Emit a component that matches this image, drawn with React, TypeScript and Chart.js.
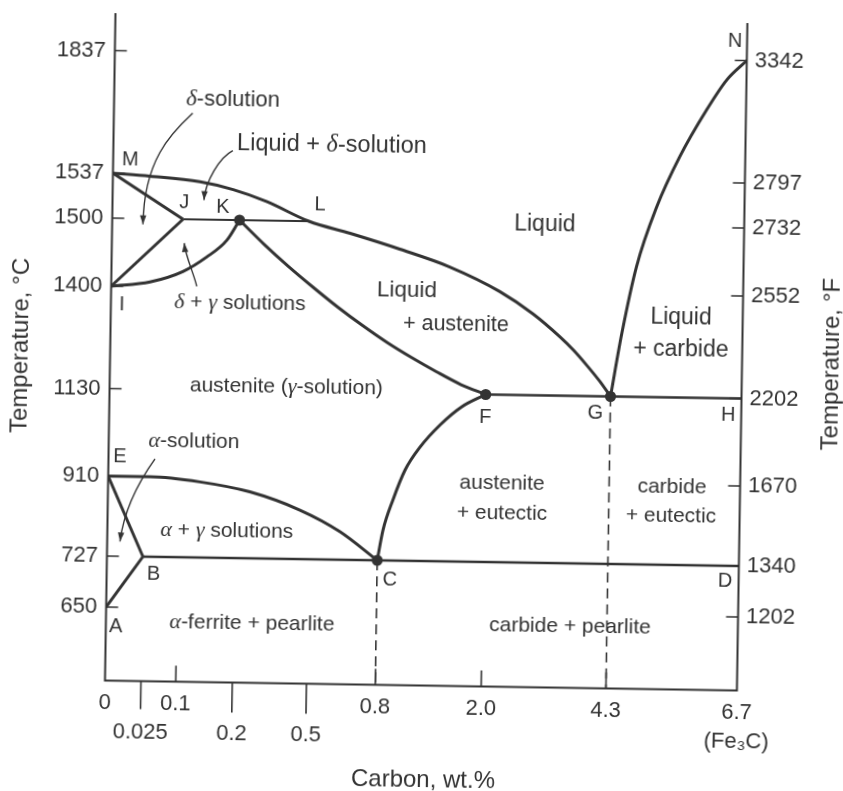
import React, { useEffect, useRef } from 'react';
import { Chart, registerables, LinearScale } from 'chart.js';

Chart.register(...registerables);

/* ================= DATA (carbon wt.%, temperature °C) ================= */
const carbonTicks = [0, 0.025, 0.1, 0.2, 0.5, 0.8, 2.0, 4.3, 6.7];
const carbonTickLabels: (string | string[])[] = ['0', ['', '0.025'], '0.1', ['', '0.2'], ['', '0.5'], '0.8', '2.0', '4.3', ['6.7', '(Fe₃C)']];
const celsiusTicks = [650, 727, 910, 1130, 1400, 1500, 1537, 1837];
const celsiusTickLabels = ['650', '727', '910', '1130', '1400', '1500', '1537', '1837'];
const fahrenheitTickLabels = ['1202', '1340', '1670', '2202', '2552', '2732', '2797', '3342'];
const carbonMin = 0;
const carbonMax = 6.7;
const celsiusMin = 540;
const celsiusMax = 1930;

// phase boundaries
const liquidusMLG = [[0, 1537], [0.027, 1535], [0.129, 1531], [0.188, 1525], [0.31, 1515.5], [0.48, 1500], [0.66, 1483], [1.0, 1461], [1.57, 1436], [2.23, 1401], [2.85, 1344], [3.35, 1285], [3.6, 1251], [3.86, 1210], [4.1, 1169], [4.3, 1130]];
const deltaLineMJ = [[0, 1537], [0.1, 1500]];
const deltaLineIJ = [[0, 1400], [0.1, 1500]];
const gammaLineIK = [[0, 1400], [0.031, 1407], [0.101, 1423], [0.143, 1445], [0.178, 1470], [0.2, 1500]];
const peritecticJL = [[0.1, 1500], [0.48, 1500]];
const solidusKF = [[0.2, 1500], [0.301, 1465], [0.401, 1433], [0.502, 1403], [0.611, 1354], [0.719, 1307], [0.873, 1263], [1.155, 1224], [1.437, 1188], [1.718, 1155], [2.0, 1130]];
const eutecticFH = [[2.0, 1130], [6.7, 1130]];
const liquidusGN = [[4.3, 1130], [4.49, 1297], [4.74, 1441], [5.09, 1516], [5.5, 1599], [5.98, 1715], [6.34, 1789], [6.7, 1837]];
const a3LineEC = [[0, 910], [0.0375, 910], [0.137, 900], [0.259, 879], [0.463, 839], [0.636, 791], [0.8, 727]];
const alphaLineEB = [[0, 910], [0.025, 727]];
const alphaLineAB = [[0, 650], [0.025, 727]];
const eutectoidBD = [[0.025, 727], [6.7, 727]];
const acmLineCF = [[0.8, 727], [0.86, 796], [0.968, 866], [1.1, 937], [1.265, 995], [1.49, 1052], [1.73, 1098], [2.0, 1130]];
const eutectoidDrop = [[0.8, 727], [0.8, 540]];
const eutecticDrop = [[4.3, 1130], [4.3, 540]];
const keyPoints = [[0.2, 1500], [2.0, 1130], [4.3, 1130], [0.8, 727]];

const pointNames = ['M', 'J', 'K', 'L', 'I', 'E', 'A', 'B', 'C', 'F', 'G', 'H', 'D', 'N'];
const pointAt = [[0, 1537], [0.1, 1500], [0.2, 1500], [0.48, 1500], [0, 1400], [0, 910], [0, 650], [0.025, 727], [0.8, 727], [2.0, 1130], [4.3, 1130], [6.7, 1130], [6.7, 727], [6.7, 1837]];

const regionTexts = ['δ-solution', 'Liquid + δ-solution', 'Liquid', 'Liquid', '+ austenite', 'Liquid', '+ carbide', 'δ + γ solutions', 'austenite (γ-solution)', 'α-solution', 'α + γ solutions', 'α-ferrite + pearlite', 'austenite', '+ eutectic', 'carbide', '+ eutectic', 'carbide + pearlite'];
const regionAt = [[0.185, 1721], [0.574, 1614], [3.04, 1500], [1.089, 1401], [1.65, 1314], [5.57, 1340], [5.575, 1255], [0.207, 1361], [0.4, 1142], [0.1255, 1000], [0.186, 789], [0.276, 629], [2.326, 908], [2.335, 839], [5.452, 906], [5.443, 839], [3.62, 631]];

/* ================= LAYOUT / STYLE ================= */
const INK = '#333333';
const FONT = "'Liberation Sans', Arial, Helvetica, sans-serif";
const GREEK_FONT = "'Liberation Serif', 'DejaVu Serif', serif";
const REGION_FONT_SIZE = [22, 23.5, 23, 22.5, 21.5, 23, 23, 21, 21, 21, 21, 21, 21, 21, 21, 21, 21];
const X_KNOT_FRACTIONS = [0, 0.05696, 0.11203, 0.20142, 0.31883, 0.42769, 0.59525, 0.79272, 1];
const Y_KNOT_VALUES = [celsiusMin, ...celsiusTicks, celsiusMax];
const Y_KNOT_FRACTIONS = [0, 0.11011, 0.18652, 0.30637, 0.43745, 0.59101, 0.69288, 0.7603, 0.94382, 1];
const X_TICK_MARK = [0, 28, -16, 30, 30, -16, -16, -16, 0]; // + = outward (down), - = inward
const POINT_LABEL_OFFSET = [[17, -14], [1, -17], [-17, -13], [11, -17], [11, 18], [11.5, -20], [10, 19], [11, 17.5], [13, 19], [0, 23], [-15, 17], [-13, 17], [-13.6, 15], [-12, -19]];
const ARROWS: { label: number; path: number[][] }[] = [
  { label: 0, path: [[-40, 14], [-62, 35], [-88, 62], [-88, 126]] },
  { label: 1, path: [[-99, 7], [-112, 14], [-126, 38], [-127, 57]] },
  { label: 7, path: [[-43.5, -16], [-47, -30], [-55, -45], [-56.6, -59]] },
  { label: 9, path: [[-38.7, 18], [-47, 30], [-68, 62], [-72.4, 101]] },
];

const KNOTS: Record<string, { v: number[]; f: number[] }> = {
  x: { v: carbonTicks, f: X_KNOT_FRACTIONS },
  y: { v: Y_KNOT_VALUES, f: Y_KNOT_FRACTIONS },
  y2: { v: Y_KNOT_VALUES, f: Y_KNOT_FRACTIONS },
};
const TICK_VALUES: Record<string, number[]> = { x: carbonTicks, y: celsiusTicks, y2: celsiusTicks };

/* ============ piecewise-linear axis (non-uniform paper scale) ============ */
class PiecewiseScale extends (LinearScale as any) {
  static id = 'piecewise';
  static defaults = {};
  buildTicks() {
    return (TICK_VALUES[this.id] || []).map((v: number) => ({ value: v }));
  }
  toDecimal(value: number) {
    const { v, f } = KNOTS[this.id];
    const n = v.length - 1;
    let i = 1;
    while (i < n && value > v[i]) i++;
    const t = (value - v[i - 1]) / (v[i] - v[i - 1]);
    return f[i - 1] + t * (f[i] - f[i - 1]);
  }
  getPixelForValue(value: number) {
    if (value === null || value === undefined || isNaN(value)) return NaN;
    return this.getPixelForDecimal(this.toDecimal(value));
  }
  getValueForPixel(pixel: number) {
    const d = this.getDecimalForPixel(pixel);
    const { v, f } = KNOTS[this.id];
    const n = v.length - 1;
    let i = 1;
    while (i < n && d > f[i]) i++;
    const t = (d - f[i - 1]) / (f[i] - f[i - 1]);
    return v[i - 1] + t * (v[i] - v[i - 1]);
  }
}
Chart.register(PiecewiseScale as any);

const pts = (a: number[][]) => a.map(([x, y]) => ({ x, y }));
const line = (data: number[][], width: number, smooth = true) => ({
  data: pts(data), showLine: true, borderColor: INK, borderWidth: width, pointRadius: 0, pointHoverRadius: 0,
  cubicInterpolationMode: smooth ? 'monotone' : 'default', tension: smooth ? 0.4 : 0, fill: false,
});

function drawRich(ctx: CanvasRenderingContext2D, text: string, x: number, y: number, size: number) {
  const runs: { t: string; g: boolean }[] = [];
  for (const ch of text) {
    const g = /[αγδ]/.test(ch);
    const last = runs[runs.length - 1];
    if (last && last.g === g) last.t += ch; else runs.push({ t: ch, g });
  }
  const fontOf = (g: boolean) => (g ? `italic ${size + 1}px ${GREEK_FONT}` : `${size}px ${FONT}`);
  let total = 0;
  const widths = runs.map((r) => { ctx.font = fontOf(r.g); const w = ctx.measureText(r.t).width; total += w; return w; });
  let cx = x - total / 2;
  ctx.textAlign = 'left';
  ctx.textBaseline = 'middle';
  runs.forEach((r, i) => { ctx.font = fontOf(r.g); ctx.fillText(r.t, cx, y); cx += widths[i]; });
}

const decor = {
  id: 'decor',
  beforeDraw(chart: any) {
    const { ctx, width, height } = chart;
    ctx.save();
    ctx.fillStyle = '#ffffff';
    ctx.fillRect(0, 0, width, height);
    ctx.restore();
  },
  afterDraw(chart: any) {
    const { ctx, chartArea: ca, scales } = chart;
    const xs = scales.x;
    const ys = scales.y;
    ctx.save();
    ctx.strokeStyle = INK;
    ctx.fillStyle = INK;
    ctx.lineCap = 'butt';
    // axes (left, bottom, right)
    ctx.lineWidth = 2;
    ctx.beginPath();
    ctx.moveTo(ca.left, ca.top);
    ctx.lineTo(ca.left, ca.bottom);
    ctx.lineTo(ca.right, ca.bottom);
    ctx.lineTo(ca.right, ca.top);
    ctx.stroke();
    // tick marks
    ctx.lineWidth = 1.6;
    ctx.beginPath();
    celsiusTicks.forEach((v) => {
      const py = ys.getPixelForValue(v);
      ctx.moveTo(ca.left, py); ctx.lineTo(ca.left + 12, py);
      ctx.moveTo(ca.right, py); ctx.lineTo(ca.right - 12, py);
    });
    carbonTicks.forEach((v, i) => {
      const len = X_TICK_MARK[i];
      if (!len) return;
      const px = xs.getPixelForValue(v);
      ctx.moveTo(px, ca.bottom); ctx.lineTo(px, ca.bottom + len);
    });
    ctx.stroke();
    // point letters
    ctx.font = `20px ${FONT}`;
    ctx.textAlign = 'center';
    ctx.textBaseline = 'middle';
    pointNames.forEach((n, i) => {
      const px = xs.getPixelForValue(pointAt[i][0]) + POINT_LABEL_OFFSET[i][0];
      const py = ys.getPixelForValue(pointAt[i][1]) + POINT_LABEL_OFFSET[i][1];
      ctx.fillText(n, px, py);
    });
    // region labels
    const anchors = regionAt.map(([c, t]) => [xs.getPixelForValue(c), ys.getPixelForValue(t)]);
    regionTexts.forEach((t, i) => drawRich(ctx, t, anchors[i][0], anchors[i][1], REGION_FONT_SIZE[i]));
    // arrows
    ctx.lineWidth = 1.4;
    ARROWS.forEach(({ label, path }) => {
      const [ax, ay] = anchors[label];
      const p = path.map(([dx, dy]) => [ax + dx, ay + dy]);
      ctx.beginPath();
      ctx.moveTo(p[0][0], p[0][1]);
      ctx.bezierCurveTo(p[1][0], p[1][1], p[2][0], p[2][1], p[3][0], p[3][1]);
      ctx.stroke();
      const ang = Math.atan2(p[3][1] - p[2][1], p[3][0] - p[2][0]);
      const L = 9, W = 3.2;
      const e = p[3];
      ctx.beginPath();
      ctx.moveTo(e[0], e[1]);
      ctx.lineTo(e[0] - L * Math.cos(ang) + W * Math.sin(ang), e[1] - L * Math.sin(ang) - W * Math.cos(ang));
      ctx.lineTo(e[0] - L * Math.cos(ang) - W * Math.sin(ang), e[1] - L * Math.sin(ang) + W * Math.cos(ang));
      ctx.closePath();
      ctx.fill();
    });
    // axis titles
    ctx.font = `24px ${FONT}`;
    ctx.textAlign = 'center';
    ctx.textBaseline = 'middle';
    const midY = (ca.top + ca.bottom) / 2;
    ctx.save();
    ctx.translate(ca.left - 89.4, midY);
    ctx.rotate(-Math.PI / 2);
    ctx.fillText('Temperature, °C', 0, 0);
    ctx.restore();
    ctx.save();
    ctx.translate(ca.right + 90, midY + 6);
    ctx.rotate(-Math.PI / 2);
    ctx.fillText('Temperature, °F', 0, 0);
    ctx.restore();
    ctx.fillText('Carbon, wt.%', (ca.left + ca.right) / 2 + 3.5, ca.bottom + 94.5);
    ctx.restore();
  },
};

const tickFont = { family: FONT, size: 22 };

export default function App() {
  const ref = useRef<HTMLCanvasElement>(null);
  useEffect(() => {
    if (!ref.current) return;
    const chart = new Chart(ref.current, {
      type: 'scatter',
      data: {
        datasets: [
          line(liquidusMLG, 3),
          line(deltaLineMJ, 3, false),
          line(deltaLineIJ, 3, false),
          line(gammaLineIK, 3),
          line(peritecticJL, 2.2, false),
          line(solidusKF, 3),
          line(eutecticFH, 2.4, false),
          line(liquidusGN, 3),
          line(a3LineEC, 3),
          line(alphaLineEB, 3, false),
          line(alphaLineAB, 3, false),
          line(eutectoidBD, 2.4, false),
          line(acmLineCF, 3),
          { ...line(eutectoidDrop, 1.6, false), borderDash: [10, 6] },
          { ...line(eutecticDrop, 1.6, false), borderDash: [10, 6] },
          { data: pts(keyPoints), showLine: false, pointRadius: 5.5, pointBackgroundColor: INK, pointBorderWidth: 0, pointHoverRadius: 0 },
        ],
      } as any,
      options: {
        responsive: false,
        animation: false,
        events: [],
        layout: { padding: { top: 18, left: 0, right: 0, bottom: 0 } },
        plugins: { legend: { display: false }, tooltip: { enabled: false }, title: { display: false } },
        scales: {
          x: {
            type: 'piecewise', position: 'bottom', min: carbonMin, max: carbonMax,
            grid: { display: false, drawTicks: false }, border: { display: false },
            ticks: { autoSkip: false, maxRotation: 0, minRotation: 0, padding: 7.5, color: INK, font: { ...tickFont, lineHeight: 29 / 22 }, callback: (_v: any, i: number) => carbonTickLabels[i] },
            afterFit: (s: any) => { s.height = 105.5; s.paddingLeft = 0; s.paddingRight = 0; },
          },
          y: {
            type: 'piecewise', position: 'left', min: celsiusMin, max: celsiusMax,
            grid: { display: false, drawTicks: false }, border: { display: false },
            ticks: { autoSkip: false, padding: 9, color: INK, font: tickFont, callback: (_v: any, i: number) => celsiusTickLabels[i] },
            afterFit: (s: any) => { s.width = 109.5; s.paddingTop = 0; s.paddingBottom = 0; },
          },
          y2: {
            type: 'piecewise', position: 'right', min: celsiusMin, max: celsiusMax,
            grid: { display: false, drawTicks: false }, border: { display: false },
            ticks: { autoSkip: false, padding: 8, color: INK, font: tickFont, callback: (_v: any, i: number) => fahrenheitTickLabels[i] },
            afterFit: (s: any) => { s.width = 101.5; s.paddingTop = 0; s.paddingBottom = 0; },
          },
        },
      } as any,
      plugins: [decor],
    });
    return () => chart.destroy();
  }, []);
  return (
    <div style={{ position: 'fixed', left: 0, top: 0, width: 843, height: 791, background: '#ffffff', transform: 'rotate(0.9deg)', transformOrigin: '50% 50%' }}>
      <canvas ref={ref} width={843} height={791} style={{ display: 'block', width: 843, height: 791 }} />
    </div>
  );
}
